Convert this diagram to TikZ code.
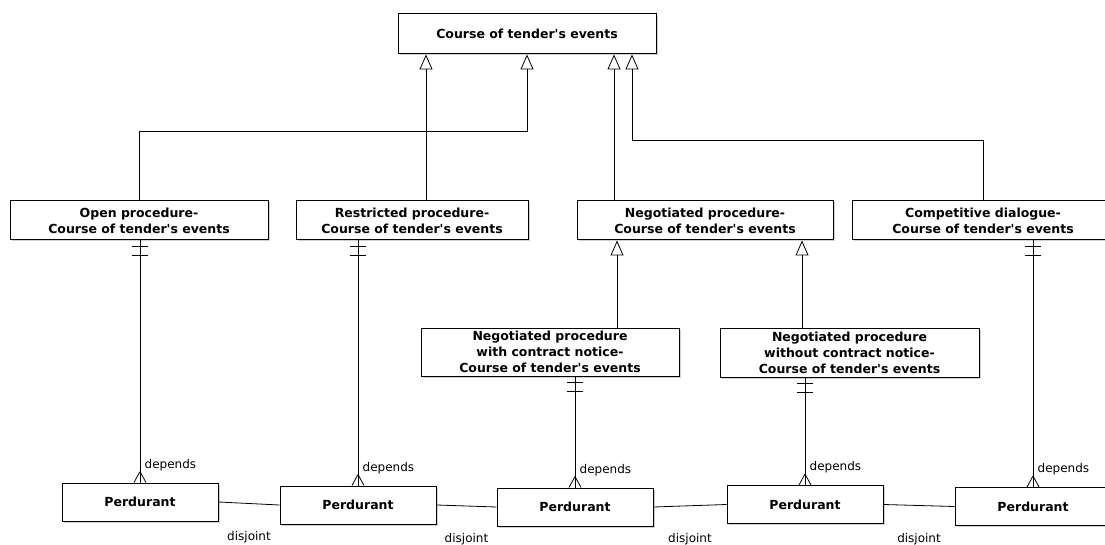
\documentclass[tikz,border=0pt]{standalone}
\usepackage{fontspec}
\setmainfont{DejaVu Sans}
\usetikzlibrary{arrows.meta,shadows,decorations.markings}
\newcommand{\cte}{Course of tender\textquotesingle s events}

\begin{document}
\begin{tikzpicture}[
    x=1pt, y=-1pt,
    line width=0.8pt,
    entity/.style={rectangle, draw, fill=white, line width=1pt,
                   align=center, inner sep=0pt,
                   font=\fontsize{12.5}{16}\selectfont\bfseries,
                   drop shadow={shadow xshift=1.5pt, shadow yshift=-1.5pt,
                                opacity=0.3, fill=black!60}},
    isa/.style={-{Triangle[open, length=15pt, width=13pt]}},
    onemany/.style={postaction={decorate},
                    decoration={markings,
                      mark=at position 6pt with {\draw (0,-8pt) -- (0,8pt);},
                      mark=at position 15pt with {\draw (0,-8pt) -- (0,8pt);},
                      mark=at position 0.9999 with {\draw (-11pt,0) -- (0,-6pt) (-11pt,0) -- (0,6pt);}}},
    lbl/.style={font=\fontsize{12}{14}\selectfont}
]
\path[use as bounding box, clip] (0,0) rectangle (1105,545);

% supertype
\node[entity, minimum width=258pt, minimum height=40pt] (top) at (527,34) {\cte};

% procedures
\node[entity, minimum width=258pt, minimum height=39pt] (open) at (139,220.5) {Open procedure-\\\cte};
\node[entity, minimum width=232pt, minimum height=39pt] (restricted) at (412,220.5) {Restricted procedure-\\\cte};
\node[entity, minimum width=256pt, minimum height=39pt] (negotiated) at (705,220.5) {Negotiated procedure-\\\cte};
\node[entity, minimum width=262pt, minimum height=39pt] (competitive) at (983,220.5) {Competitive dialogue-\\\cte};
\node[entity, minimum width=258pt, minimum height=48pt] (negwith) at (550,352) {Negotiated procedure\\with contract notice-\\\cte};
\node[entity, minimum width=259pt, minimum height=49pt] (negwithout) at (849.5,352.5) {Negotiated procedure\\without contract notice-\\\cte};

% perdurants
\node[entity, minimum width=156pt, minimum height=38pt] (p1) at (140,502) {Perdurant};
\node[entity, minimum width=156pt, minimum height=38pt] (p2) at (358,505) {Perdurant};
\node[entity, minimum width=156pt, minimum height=38pt] (p3) at (575,507) {Perdurant};
\node[entity, minimum width=156pt, minimum height=38pt] (p4) at (805,504.5) {Perdurant};
\node[entity, minimum width=156pt, minimum height=38pt] (p5) at (1033,506.5) {Perdurant};

% generalisation
\draw[isa] (open.north) -- ++(0,-69) -| (top.south);
\draw[isa] ([xshift=14pt]restricted.north) -- ([xshift=14pt]restricted.north |- top.south);
\draw[isa] ([xshift=-91pt]negotiated.north) -- ([xshift=-91pt]negotiated.north |- top.south);
\draw[isa] (competitive.north) -- ++(0,-60) -| ([xshift=105pt]top.south);
\draw[isa] ([xshift=67pt]negwith.north) -- ([xshift=67pt]negwith.north |- negotiated.south);
\draw[isa] ([xshift=-47.5pt]negwithout.north) -- ([xshift=-47.5pt]negwithout.north |- negotiated.south);

% depends
\draw[onemany] (p1.north |- open.south) -- (p1.north) node[lbl, anchor=south west, xshift=1pt, yshift=8pt] {depends};
\draw[onemany] (p2.north |- restricted.south) -- (p2.north) node[lbl, anchor=south west, xshift=1pt, yshift=8pt] {depends};
\draw[onemany] (p3.north |- negwith.south) -- (p3.north) node[lbl, anchor=south west, xshift=1pt, yshift=8pt] {depends};
\draw[onemany] (p4.north |- negwithout.south) -- (p4.north) node[lbl, anchor=south west, xshift=1pt, yshift=8pt] {depends};
\draw[onemany] (p5.north |- competitive.south) -- (p5.north) node[lbl, anchor=south west, xshift=1pt, yshift=8pt] {depends};

% disjoint
\draw (p1.east) -- node[lbl, below=24pt] {disjoint} (p2.west);
\draw (p2.east) -- node[lbl, below=24pt] {disjoint} (p3.west);
\draw (p3.east) -- node[lbl, below=24pt] {disjoint} (p4.west);
\draw (p4.east) -- node[lbl, below=24pt] {disjoint} (p5.west);
\end{tikzpicture}
\end{document}
